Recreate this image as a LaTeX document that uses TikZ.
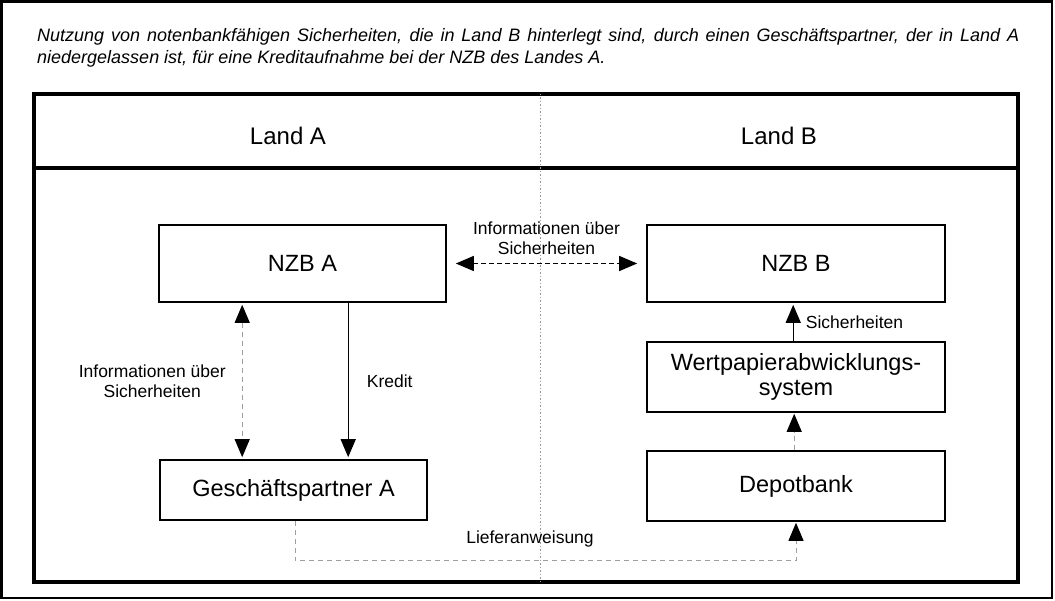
\documentclass[tikz,border=0pt]{standalone}
\usepackage{fontspec}
\setmainfont{Liberation Sans}
\usetikzlibrary{arrows.meta}

\tikzset{
  box/.style={draw, line width=1.6pt, inner sep=0pt, align=center,
    font=\fontsize{23.5}{25}\selectfont},
  lbl/.style={inner sep=0pt, align=center, font=\fontsize{17.5}{20}\selectfont},
  pfeil/.style={-{Triangle[length=18pt,width=15pt,color=black]}},
  doppelpfeil/.style={{Triangle[length=18pt,width=15pt,color=black]}-{Triangle[length=18pt,width=15pt,color=black]}},
  grauline/.style={draw=gray!75, line width=1pt, dash pattern=on 5pt off 4pt},
}

\begin{document}
\begin{tikzpicture}[x=1pt, y=-1pt]
  \useasboundingbox (0,0) rectangle (1055,601);
  % Rahmen
  \draw[line width=2.5pt] (1.5,1.5) rectangle (1052,598);
  \draw[line width=3.2pt] (34,94) rectangle (1018,582);
  \draw[line width=3.2pt] (34,168) -- (1018,168);
  \draw[gray!80, line width=1pt, dash pattern=on 1.5pt off 2pt] (540,94) -- (540,582);
  % Titel
  \node[anchor=north west, inner sep=0pt, text width=982pt, align=justify,
    font=\fontsize{18}{22}\selectfont\itshape] (titel) at (37,28)
    {Nutzung von notenbankfähigen Sicherheiten, die in Land B hinterlegt sind, durch einen Geschäftspartner, der in Land A\linebreak niedergelassen ist, für eine Kreditaufnahme bei der NZB des Landes A.};
  \node[font=\fontsize{24}{26}\selectfont] (landa) at (288,136) {Land A};
  \node[font=\fontsize{24}{26}\selectfont] (landb) at (779,136) {Land B};
  % Kaesten
  \node[box, minimum width=287pt, minimum height=77pt] (nzba) at (302.5,263.5) {NZB A};
  \node[box, minimum width=298pt, minimum height=77pt] (nzbb) at (796,263.5) {NZB B};
  \node[box, minimum width=267pt, minimum height=60pt] (gpa) at (293.5,490) {Geschäftspartner A};
  \node[box, minimum width=298pt, minimum height=70pt] (wps) at (796,377) {Wertpapierabwicklungs-\\system};
  \node[box, minimum width=298pt, minimum height=70pt] (depot) at (796,486) {Depotbank};
  % Pfeile
  \draw[doppelpfeil, line width=1.4pt, dash pattern=on 5pt off 3pt, shorten <=9pt, shorten >=9pt]
    (nzba) -- (nzbb) node[lbl, midway, above=8pt] {Informationen über\\Sicherheiten};
  \draw[doppelpfeil, grauline, shorten <=2pt, shorten >=2pt]
    ([xshift=84pt]nzba.south west) -- ([xshift=83pt]gpa.north west)
    node[lbl, midway, left=16pt] {Informationen über\\Sicherheiten};
  \draw[pfeil, line width=1.4pt, shorten >=2pt]
    ([xshift=190pt]nzba.south west) -- ([xshift=189pt]gpa.north west)
    node[lbl, midway, right=18pt] {Kredit};
  \draw[pfeil, line width=1.4pt, shorten >=2pt]
    ([xshift=147pt]wps.north west) -- ([xshift=147pt]nzbb.south west)
    node[lbl, midway, right=12pt] {Sicherheiten};
  \draw[pfeil, grauline, shorten >=1pt]
    ([xshift=148pt]depot.north west) -- ([xshift=148pt]wps.south west);
  \draw[pfeil, grauline, shorten >=1pt]
    ([xshift=136pt]gpa.south west) -- ++(0,40) -| (depot.south);
  \node[lbl] (lief) at (530,539) {Lieferanweisung};
\end{tikzpicture}
\end{document}
